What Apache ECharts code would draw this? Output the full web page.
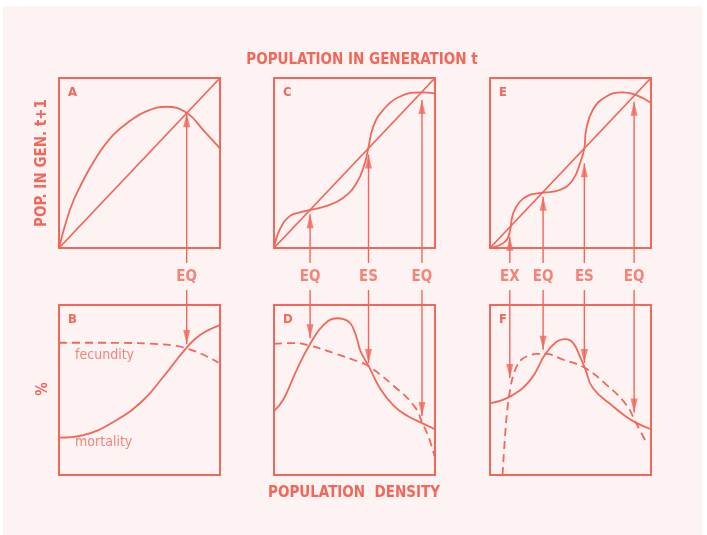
<!DOCTYPE html>
<html>
<head>
<meta charset="utf-8">
<script src="https://cdn.jsdelivr.net/npm/echarts@6/dist/echarts.min.js"></script>
<style>
html,body{margin:0;padding:0;background:#ffffff;}
#chart{width:707px;height:535px;}
</style>
</head>
<body>
<div id="chart"></div>
<script>
// ---------- DATA ----------
// Panel A : reproduction curve (one equilibrium)
const aX = [0, 0.068, 0.13, 0.234, 0.337, 0.441, 0.545, 0.665, 0.793, 0.896, 1.0];
const aY = [0, 0.225, 0.36, 0.537, 0.665, 0.748, 0.805, 0.831, 0.796, 0.694, 0.586];
// Panel C : reproduction curve (EQ, ES, EQ)
const cX = [0, 0.037, 0.099, 0.16, 0.224, 0.327, 0.431, 0.514, 0.565, 0.586, 0.617, 0.679, 0.783, 0.917, 1.0];
const cY = [0, 0.111, 0.189, 0.209, 0.224, 0.248, 0.296, 0.384, 0.501, 0.589, 0.715, 0.813, 0.891, 0.916, 0.91];
// Panel E : reproduction curve (EX, EQ, ES, EQ)
const eX = [0, 0.062, 0.103, 0.123, 0.144, 0.185, 0.247, 0.329, 0.432, 0.514, 0.566, 0.586, 0.597, 0.638, 0.72, 0.823, 0.897, 1.0];
const eY = [0, 0.018, 0.047, 0.096, 0.204, 0.272, 0.312, 0.325, 0.341, 0.4, 0.518, 0.586, 0.694, 0.812, 0.89, 0.916, 0.904, 0.855];
// Panel B : fecundity (dashed) and mortality (solid)
const bFecX = [0, 0.2, 0.4, 0.565, 0.731, 0.789, 0.876, 0.99];
const bFecY = [0.778, 0.778, 0.777, 0.773, 0.759, 0.745, 0.716, 0.661];
const bMorX = [0, 0.151, 0.358, 0.524, 0.648, 0.789, 0.876, 1.0];
const bMorY = [0.22, 0.235, 0.324, 0.441, 0.578, 0.745, 0.824, 0.882];
// Panel D
const dFecX = [0, 0.121, 0.225, 0.371, 0.517, 0.589, 0.746, 0.871, 0.923, 0.965, 0.996];
const dFecY = [0.772, 0.776, 0.76, 0.717, 0.669, 0.639, 0.522, 0.405, 0.304, 0.211, 0.113];
const dMorX = [0, 0.058, 0.142, 0.225, 0.308, 0.392, 0.464, 0.496, 0.517, 0.538, 0.589, 0.663, 0.746, 0.83, 0.923, 1.0];
const dMorY = [0.376, 0.444, 0.62, 0.772, 0.883, 0.922, 0.902, 0.854, 0.795, 0.727, 0.639, 0.503, 0.405, 0.347, 0.304, 0.269];
// Panel F
const fFecX = [0.078, 0.092, 0.108, 0.125, 0.143, 0.166, 0.194, 0.231, 0.292, 0.344, 0.456, 0.589, 0.722, 0.845, 0.906, 0.977];
const fFecY = [0, 0.211, 0.386, 0.503, 0.581, 0.639, 0.678, 0.698, 0.712, 0.712, 0.678, 0.63, 0.532, 0.415, 0.308, 0.181];
const fMorX = [0, 0.129, 0.252, 0.344, 0.415, 0.466, 0.517, 0.558, 0.589, 0.64, 0.763, 0.834, 0.906, 1.0];
const fMorY = [0.421, 0.464, 0.561, 0.712, 0.785, 0.799, 0.776, 0.698, 0.63, 0.51, 0.405, 0.351, 0.308, 0.269];

// Arrows: x position, tip in top panel, tip in bottom panel, label
const arrowsA = { x: [0.793], topTip: [0.792], botTip: [0.77], labels: ['EQ'] };
const arrowsC = { x: [0.224, 0.587, 0.919], topTip: [0.199, 0.55, 0.871], botTip: [0.805, 0.659, 0.347], labels: ['EQ', 'ES', 'EQ'] };
const arrowsE = { x: [0.123, 0.33, 0.586, 0.895], topTip: [0.066, 0.302, 0.498, 0.861], botTip: [0.571, 0.737, 0.659, 0.367], labels: ['EX', 'EQ', 'ES', 'EQ'] };

const panelLetters = ['A', 'C', 'E', 'B', 'D', 'F'];
const diagonal = [0, 1];

// ---------- STYLE / LAYOUT ----------
const FG = '#f2675a';
const BG = '#fdf3f2';
const FONT = '"DejaVu Sans Condensed", "DejaVu Sans", sans-serif';
const lefts = [59, 274, 490];
const tops = [78, 305];
const W = 161, H = 170;

const grids = [], xAxes = [], yAxes = [];
for (let r = 0; r < 2; r++) {
  for (let c = 0; c < 3; c++) {
    grids.push({ left: lefts[c], top: tops[r], width: W, height: H, show: true,
      borderColor: FG, borderWidth: 2, backgroundColor: 'transparent', containLabel: false });
    const gi = grids.length - 1;
    xAxes.push({ gridIndex: gi, type: 'value', min: 0, max: 1, show: false });
    yAxes.push({ gridIndex: gi, type: 'value', min: 0, max: 1, show: false });
  }
}

function curve(gi, xs, ys, dashed, smooth) {
  return {
    type: 'line', xAxisIndex: gi, yAxisIndex: gi,
    data: xs.map((x, i) => [x, ys[i]]),
    smooth: smooth === undefined ? 0.45 : smooth,
    showSymbol: false, symbol: 'none', silent: true, clip: false,
    lineStyle: { color: FG, width: 1.8, type: dashed ? [8, 5] : 'solid' }
  };
}

const series = [];
// top reproduction panels
series.push(curve(0, diagonal, diagonal, false, false));
series.push(curve(0, aX, aY, false));
series.push(curve(1, diagonal, diagonal, false, false));
series.push(curve(1, cX, cY, false));
series.push(curve(2, diagonal, diagonal, false, false));
series.push(curve(2, eX, eY, false));
// bottom rate panels
series.push(curve(3, bFecX, bFecY, true));
series.push(curve(3, bMorX, bMorY, false));
series.push(curve(4, dFecX, dFecY, true));
series.push(curve(4, dMorX, dMorY, false));
series.push(curve(5, fFecX, fFecY, true));
series.push(curve(5, fMorX, fMorY, false));

const TOP_END = -0.088;   // arrow shaft end below top boxes
const BOT_START = 1.088;  // arrow shaft start above bottom boxes
const LABEL_Y = -0.171;   // label position in top-panel units

function addArrows(topGi, botGi, a) {
  a.x.forEach((x, i) => {
    series.push({ type: 'line', xAxisIndex: topGi, yAxisIndex: topGi, data: [[x, a.topTip[i]], [x, TOP_END]],
      showSymbol: false, symbol: 'none', clip: false, silent: true, lineStyle: { color: FG, width: 1.4 } });
    series.push({ type: 'line', xAxisIndex: botGi, yAxisIndex: botGi, data: [[x, BOT_START], [x, a.botTip[i]]],
      showSymbol: false, symbol: 'none', clip: false, silent: true, lineStyle: { color: FG, width: 1.4 } });
  });
  series.push({ type: 'scatter', xAxisIndex: topGi, yAxisIndex: topGi, clip: false, silent: true,
    data: a.x.map((x, i) => [x, a.topTip[i]]), symbol: 'triangle', symbolSize: [7, 14], symbolOffset: [0, 7],
    itemStyle: { color: FG } });
  series.push({ type: 'scatter', xAxisIndex: botGi, yAxisIndex: botGi, clip: false, silent: true,
    data: a.x.map((x, i) => [x, a.botTip[i]]), symbol: 'triangle', symbolRotate: 180, symbolSize: [7, 14], symbolOffset: [0, -7],
    itemStyle: { color: FG } });
  series.push({ type: 'scatter', xAxisIndex: topGi, yAxisIndex: topGi, clip: false, silent: true,
    data: a.x.map((x, i) => ({ value: [x, LABEL_Y], label: { formatter: a.labels[i] } })),
    symbolSize: 0, itemStyle: { color: 'transparent' },
    label: { show: true, position: 'inside', color: FG, fontFamily: FONT, fontSize: 15, fontWeight: 'bold' } });
}
addArrows(0, 3, arrowsA);
addArrows(1, 4, arrowsC);
addArrows(2, 5, arrowsE);

// curve names in panel B
series.push({ type: 'scatter', xAxisIndex: 3, yAxisIndex: 3, clip: false, silent: true, symbolSize: 0,
  itemStyle: { color: 'transparent' },
  data: [{ value: [0.1, 0.706], label: { formatter: 'fecundity' } }, { value: [0.1, 0.19], label: { formatter: 'mortality' } }],
  label: { show: true, position: 'right', distance: 0, color: FG, fontFamily: FONT, fontSize: 14 } });

// panel letters
const letterGraphics = panelLetters.map((t, i) => ({
  type: 'text', x: lefts[i % 3] + 9, y: tops[Math.floor(i / 3)] + 8,
  style: { text: t, fill: FG, font: 'bold 13px ' + FONT }
}));

const chart = echarts.init(document.getElementById('chart'));
chart.setOption({
  animation: false,
  backgroundColor: BG,
  grid: grids, xAxis: xAxes, yAxis: yAxes, series: series,
  graphic: [
    { type: 'rect', shape: { x: 0, y: 0, width: 707, height: 6 }, style: { fill: '#ffffff' } },
    { type: 'rect', shape: { x: 0, y: 0, width: 3, height: 535 }, style: { fill: '#ffffff' } },
    { type: 'rect', shape: { x: 702, y: 0, width: 5, height: 535 }, style: { fill: '#ffffff' } },
    { type: 'text', x: 362, y: 60, style: { text: 'POPULATION IN GENERATION t', fill: FG, font: 'bold 15px ' + FONT, textAlign: 'center', textVerticalAlign: 'middle' } },
    { type: 'text', x: 354, y: 493, style: { text: 'POPULATION  DENSITY', fill: FG, font: 'bold 15px ' + FONT, textAlign: 'center', textVerticalAlign: 'middle' } },
    { type: 'text', x: 42, y: 163, rotation: Math.PI / 2, style: { text: 'POP. IN GEN. t+1', fill: FG, font: 'bold 15px ' + FONT, textAlign: 'center', textVerticalAlign: 'middle' } },
    { type: 'text', x: 43, y: 389, rotation: Math.PI / 2, style: { text: '%', fill: FG, font: 'bold 15px ' + FONT, textAlign: 'center', textVerticalAlign: 'middle' } }
  ].concat(letterGraphics)
});
</script>
</body>
</html>
